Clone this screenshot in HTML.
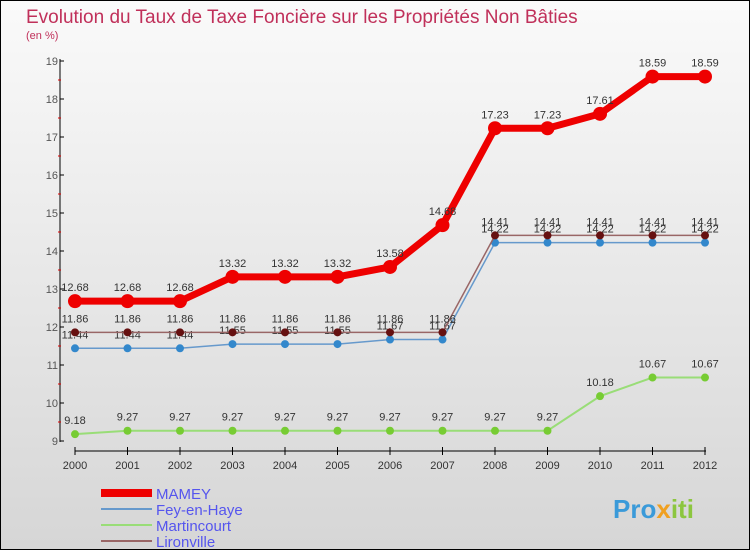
<!DOCTYPE html>
<html><head><meta charset="utf-8"><style>
body{margin:0}
#c{position:relative;width:748px;height:548px;border:1px solid #000;background:linear-gradient(#fafafa,#d6d6d6);font-family:"Liberation Sans",sans-serif;overflow:hidden}
</style></head><body>
<div id="c">
<svg id="s" width="748" height="548">
<text x="25" y="22" font-size="19" fill="#c0305a">Evolution du Taux de Taxe Foncière sur les Propriétés Non Bâties</text>
<text x="25" y="38" font-size="11" fill="#c0305a">(en %)</text>
<g id="g"></g>
<text x="612" y="517" font-size="26" font-weight="bold" fill="#3a9ad9">Pro<tspan fill="#f0a020">x</tspan><tspan fill="#8cc63f">iti</tspan></text>
</svg></div>
<script>
const years=[2000,2001,2002,2003,2004,2005,2006,2007,2008,2009,2010,2011,2012];
const mamey=[12.68,12.68,12.68,13.32,13.32,13.32,13.58,14.68,17.23,17.23,17.61,18.59,18.59];
const fey=[11.44,11.44,11.44,11.55,11.55,11.55,11.67,11.67,14.22,14.22,14.22,14.22,14.22];
const martin=[9.18,9.27,9.27,9.27,9.27,9.27,9.27,9.27,9.27,9.27,10.18,10.67,10.67];
const liron=[11.86,11.86,11.86,11.86,11.86,11.86,11.86,11.86,14.41,14.41,14.41,14.41,14.41];
const yTicks=[9,10,11,12,13,14,15,16,17,18,19];
const ns="http://www.w3.org/2000/svg",g=document.getElementById('g');
const X=i=>74+i*52.5, Y=v=>440-(v-9)*38;
function el(t,a){const e=document.createElementNS(ns,t);for(const k in a)e.setAttribute(k,a[k]);g.appendChild(e);return e;}
let a=el('line',{x1:59,y1:58,x2:59,y2:441,stroke:'#000'});


a=el('line',{x1:74,y1:450,x2:705,y2:450,stroke:'#000'});


yTicks.forEach(v=>{
 let t=el('line',{x1:59,y1:Y(v),x2:63,y2:Y(v),stroke:'#000'});
 
 
 if(v<19){let m=el('line',{x1:57,y1:Y(v+0.5),x2:60,y2:Y(v+0.5),stroke:'#d00'});
 
 }
 let l=el('text',{x:57,y:Y(v)+4,'font-size':11,fill:'#555','text-anchor':'end'});l.textContent=v;
 
 
});
years.forEach((y,i)=>{
 let t=el('line',{x1:X(i),y1:446,x2:X(i),y2:454,stroke:'#000'});
 
 
 let l=el('text',{x:X(i),y:468,'font-size':11,fill:'#333','text-anchor':'middle'});l.textContent=y;
 
 
});
function series(d,col,w,r,dot,name){
 let p=el('polyline',{points:d.map((v,i)=>X(i)+','+Y(v)).join(' '),fill:'none',stroke:col,'stroke-width':w});
 
 
 d.forEach((v,i)=>{
  let c=el('circle',{cx:X(i),cy:Y(v),r:r,fill:dot});
  
  
  let t=el('text',{x:X(i),y:Y(v)-10,'font-size':11,fill:'#333','text-anchor':'middle'});t.textContent=v;
  
  
 });
}
series(martin,'#99dd77',2,4,'#77cc33','martincourt');
series(fey,'#6699cc',1.5,4,'#3388cc','fey-en-haye');
series(liron,'#996666',1.5,4,'#661111','lironville');
series(mamey,'#ee0000',7,7,'#ee0000','mamey');
const leg=[['MAMEY','#ee0000',8],['Fey-en-Haye','#6699cc',2],['Martincourt','#99dd77',2],['Lironville','#996666',2]];
leg.forEach((L,i)=>{
 let y=492+i*16;
 let l=el('line',{x1:100,y1:y,x2:151,y2:y,stroke:L[1],'stroke-width':L[2]});
 
 
 let t=el('text',{x:155,y:y+6,'font-size':15,fill:'#5555ee'});t.textContent=L[0];
 
 
});
</script></body></html>
